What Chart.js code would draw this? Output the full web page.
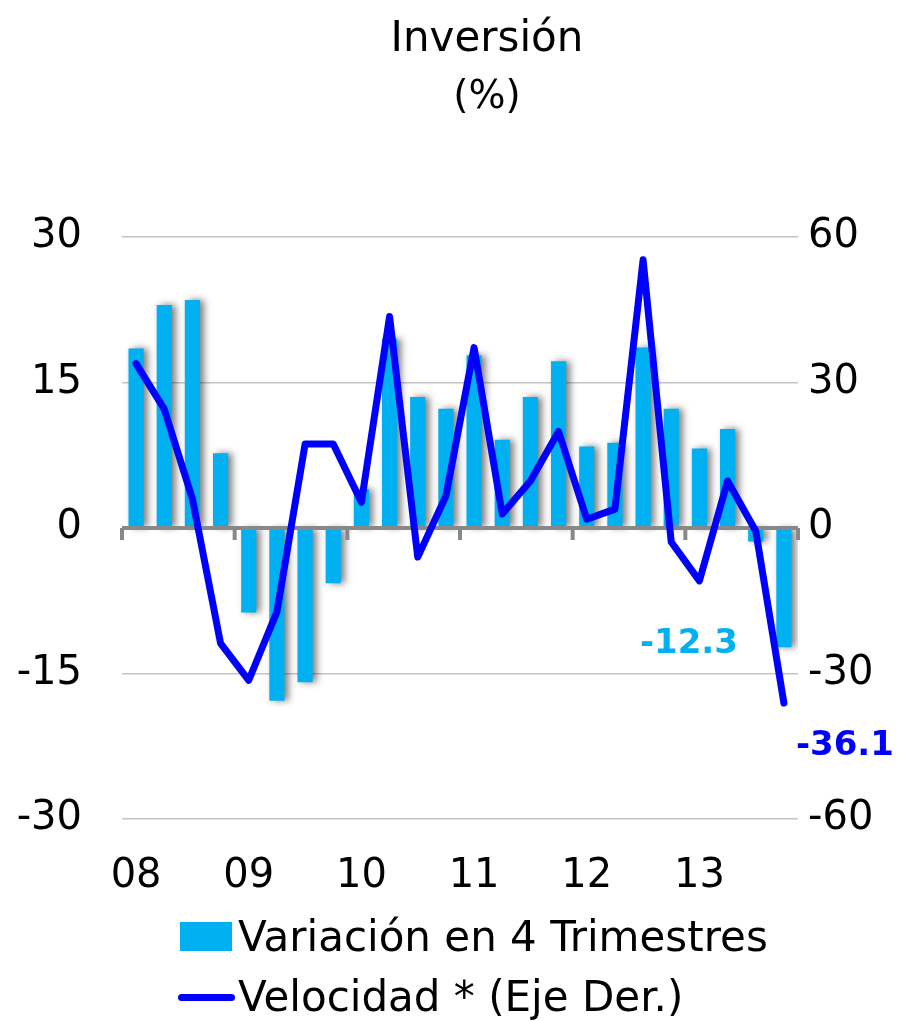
<!DOCTYPE html>
<html lang="es">
<head>
<meta charset="utf-8">
<title>Inversión</title>
<script src="https://cdn.jsdelivr.net/npm/chart.js@4.4.1/dist/chart.umd.min.js"></script>
<style>
  body { margin: 0; background: #fff; font-family: "DejaVu Sans", sans-serif; color: #000; }
  #wrap { position: relative; width: 909px; height: 1021px; overflow: hidden; }
  #grafico { position: absolute; left: 0; top: 0; }
  .titulo { position: absolute; transform: translateX(-50%); white-space: nowrap; }
  .leyenda { position: absolute; white-space: nowrap; font-size: 42px; line-height: 50px; }
  .swatch { position: absolute; }
</style>
</head>
<body>
<div id="wrap">
  <canvas id="grafico" width="909" height="1021"></canvas>
  <div class="titulo" style="left:487px; top:12px; font-size:42px; line-height:50px;">Inversión</div>
  <div class="titulo" style="left:487px; top:70px; font-size:39px; line-height:50px;">(%)</div>
  <div class="swatch" style="left:180px; top:922px; width:52px; height:29px; background:#00b0f0;"></div>
  <div class="leyenda" style="left:238px; top:912px;">Variación en 4 Trimestres</div>
  <div class="swatch" style="left:178px; top:994px; width:57px; height:7px; border-radius:4px; background:#0000ff;"></div>
  <div class="leyenda" style="left:238px; top:972px;">Velocidad * (Eje Der.)</div>
</div>
<script>
// Inversión (%) - trimestral 2008-2013
const etiquetas = ['08', '', '', '', '09', '', '', '', '10', '', '', '', '11', '', '', '', '12', '', '', '', '13', '', '', ''];

// Variación en 4 trimestres (eje izq.)
const variacion = [18.5, 23.0, 23.5, 7.7, -8.7, -17.8, -15.9, -5.7, 4.0, 19.5, 13.5, 12.3,
  17.8, 9.1, 13.5, 17.2, 8.4, 8.8, 18.6, 12.3, 8.2, 10.2, -1.4, -12.3];

// Velocidad (eje der.)
const velocidad = [33.9, 24.5, 6.0, -23.8, -31.4, -17.3, 17.3, 17.3, 5.3, 43.6, -6.0, 6.6,
  37.2, 2.9, 9.7, 19.9, 1.8, 3.9, 55.3, -2.9, -10.9, 9.7, -0.6, -36.1];

const ticksIzq = [-30, -15, 0, 15, 30];
const ticksDer = [-60, -30, 0, 30, 60];

const CIAN = '#00b0f0';
const AZUL = '#0000ff';
const FUENTE = '"DejaVu Sans", sans-serif';

// sombra de las barras + eje cero con marcas por año
const pluginEjes = {
  id: 'ejes',
  beforeDatasetDraw(chart, args) {
    if (args.index !== 0) return;
    const ctx = chart.ctx;
    ctx.save();
    ctx.shadowColor = 'rgba(0,0,0,0.5)';
    ctx.shadowBlur = 7;
    ctx.shadowOffsetX = 4;
    ctx.shadowOffsetY = 0;
  },
  afterDatasetDraw(chart, args) {
    if (args.index !== 0) return;
    const ctx = chart.ctx;
    ctx.restore();
    const x = chart.scales.x;
    const y0 = chart.scales.y.getPixelForValue(0);
    const paso = x.getPixelForValue(1) - x.getPixelForValue(0);
    ctx.save();
    ctx.strokeStyle = '#888888';
    ctx.lineWidth = 4;
    ctx.beginPath();
    ctx.moveTo(chart.chartArea.left, y0);
    ctx.lineTo(chart.chartArea.right, y0);
    ctx.stroke();
    for (let i = 0; i <= etiquetas.length; i += 4) {
      const px = x.getPixelForValue(0) - paso / 2 + i * paso;
      ctx.beginPath();
      ctx.moveTo(px, y0);
      ctx.lineTo(px, y0 + 12);
      ctx.stroke();
    }
    ctx.restore();
  },
  afterDatasetsDraw(chart) {
    const ctx = chart.ctx;
    const n = etiquetas.length - 1;
    const barra = chart.getDatasetMeta(0).data[n];
    const punto = chart.getDatasetMeta(1).data[n];
    ctx.save();
    ctx.font = 'bold 34px ' + FUENTE;
    ctx.textBaseline = 'middle';
    ctx.fillStyle = CIAN;
    ctx.textAlign = 'right';
    ctx.fillText(variacion[n].toFixed(1), barra.x - 46, barra.y - 3);
    ctx.fillStyle = AZUL;
    ctx.textAlign = 'left';
    ctx.fillText(velocidad[n].toFixed(1), punto.x + 12, punto.y + 43);
    ctx.restore();
  }
};

new Chart(document.getElementById('grafico'), {
  type: 'bar',
  data: {
    labels: etiquetas,
    datasets: [
      {
        label: 'Variación en 4 Trimestres',
        data: variacion,
        backgroundColor: CIAN,
        borderWidth: 0,
        barPercentage: 0.54,
        categoryPercentage: 1,
        yAxisID: 'y',
        order: 2
      },
      {
        type: 'line',
        label: 'Velocidad * (Eje Der.)',
        data: velocidad,
        borderColor: AZUL,
        borderWidth: 7,
        borderJoinStyle: 'round',
        borderCapStyle: 'round',
        pointRadius: 0,
        tension: 0,
        fill: false,
        yAxisID: 'y1',
        order: 1
      }
    ]
  },
  options: {
    responsive: false,
    animation: false,
    layout: { padding: { top: 237, left: 0, right: 0, bottom: 0 } },
    plugins: {
      legend: { display: false },
      title: { display: false },
      tooltip: { enabled: false }
    },
    scales: {
      x: {
        offset: true,
        grid: { display: false, drawTicks: false },
        border: { display: false },
        ticks: {
          autoSkip: false,
          maxRotation: 0,
          padding: 34,
          color: '#000',
          font: { family: FUENTE, size: 40 }
        },
        afterFit: s => { s.height = 202; }
      },
      y: {
        position: 'left',
        min: -30,
        max: 30,
        afterBuildTicks: s => { s.ticks = ticksIzq.map(v => ({ value: v })); },
        grid: {
          drawTicks: false,
          color: ctx => ctx.tick && ctx.tick.value === 0 ? 'rgba(0,0,0,0)' : '#c4c4c4',
          lineWidth: 1.5
        },
        border: { display: false },
        ticks: { padding: 40, color: '#000', font: { family: FUENTE, size: 40 } },
        afterFit: s => { s.width = 122; }
      },
      y1: {
        position: 'right',
        min: -60,
        max: 60,
        afterBuildTicks: s => { s.ticks = ticksDer.map(v => ({ value: v })); },
        grid: { display: false, drawTicks: false },
        border: { display: false },
        ticks: { padding: 10, color: '#000', font: { family: FUENTE, size: 40 } },
        afterFit: s => { s.width = 111; }
      }
    }
  },
  plugins: [pluginEjes]
});
</script>
</body>
</html>
